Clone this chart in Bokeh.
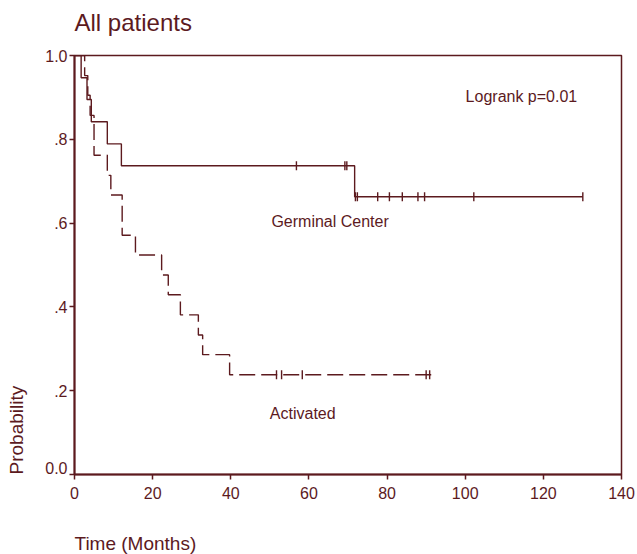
import numpy as np
from bokeh.plotting import figure
from bokeh.models import Range1d, FixedTicker, Label, Title, LinearAxis
from bokeh.embed import file_html
from bokeh.resources import INLINE

# ---- data ----
gc_times = [1.7, 3.2, 4.3, 8.4, 12.0, 71.7]
gc_probs = [0.947, 0.895, 0.842, 0.789, 0.737, 0.663]
gc_end = 130.1
gc_censor_t = [56.8, 69.2, 69.7, 71.9, 72.4, 77.6, 80.6, 83.9, 87.9, 89.6, 102.2, 130.1]

act_times = [2.6, 3.4, 4.0, 5.0, 8.4, 9.3, 12.2, 15.6, 22.3, 24.0, 27.1, 31.7, 32.8, 39.7]
act_probs = [0.952, 0.905, 0.857, 0.762, 0.714, 0.667, 0.571, 0.524, 0.476, 0.429,
             0.381, 0.333, 0.286, 0.238]
act_end = 92.0
act_censor_t = [51.7, 53.0, 58.3, 90.0, 90.9]

y_ticks = [0.0, 0.2, 0.4, 0.6, 0.8, 1.0]
y_tick_labels = ["0.0", ".2", ".4", ".6", ".8", "1.0"]
x_ticks = [0, 20, 40, 60, 80, 100, 120, 140]

C = "#5c1a1e"
FONT = "Liberation Sans"
ZERO_LABEL_LIFT = 0.0167  # the "0.0" label sits a little above its tick


def km_curve(times, probs, end):
    xs = [0.0] + list(times) + [end]
    ys = [1.0] + list(probs) + [probs[-1]]
    return xs, ys


def level_at(times, probs, t):
    p = 1.0
    for ti, pi in zip(times, probs):
        if t >= ti:
            p = pi
    return p


p = figure(width=637, height=554, output_backend="svg", toolbar_location=None,
           x_range=Range1d(0, 140), y_range=Range1d(0, 1),
           min_border_left=74, min_border_right=16, min_border_top=55, min_border_bottom=79)

p.grid.visible = False
p.outline_line_color = C
p.outline_line_width = 1.5
p.background_fill_color = "white"
p.border_fill_color = "white"

xa = p.xaxis[0]
ya = p.yaxis[0]
for ax in (xa, ya):
    ax.axis_line_color = C
    ax.axis_line_width = 2
    ax.major_tick_line_color = C
    ax.major_tick_line_width = 1.5
    ax.major_tick_out = 5
    ax.major_tick_in = 0
    ax.minor_tick_line_color = None
    ax.major_label_text_color = C
    ax.major_label_text_font = FONT
    ax.major_label_text_font_size = "16px"

xa.ticker = FixedTicker(ticks=x_ticks)
xa.major_label_standoff = 7
ya.ticker = FixedTicker(ticks=y_ticks)
ya.major_label_overrides = {t: "" for t in y_ticks}
ya.major_label_standoff = 0

# a label-only axis so the "0.0" label can sit slightly above its tick
label_pos = [t + (ZERO_LABEL_LIFT if t == 0 else 0.0) for t in y_ticks]
lab_axis = LinearAxis(ticker=FixedTicker(ticks=label_pos),
                      major_label_overrides={t: s for t, s in zip(label_pos, y_tick_labels)},
                      axis_line_color=None, major_tick_line_color=None,
                      major_tick_out=0, major_tick_in=0, minor_tick_line_color=None,
                      major_label_standoff=2, major_label_text_color=C,
                      major_label_text_font=FONT, major_label_text_font_size="16px")
p.add_layout(lab_axis, "left")

# curves
gx, gy = km_curve(gc_times, gc_probs, gc_end)
p.step(gx, gy, mode="after", line_color=C, line_width=1.4)
ax_, ay_ = km_curve(act_times, act_probs, act_end)
p.step(ax_, ay_, mode="after", line_color=C, line_width=1.4, line_dash="16 6")

# censor marks
p.scatter(gc_censor_t, [level_at(gc_times, gc_probs, t) for t in gc_censor_t],
          marker="dash", angle=np.pi / 2, size=9, line_color=C, line_width=1.4)
p.scatter(act_censor_t, [level_at(act_times, act_probs, t) for t in act_censor_t],
          marker="dash", angle=np.pi / 2, size=9, line_color=C, line_width=1.4)

# annotations
for txt, x, y in [("Logrank p=0.01", 100.1, 0.902), ("Germinal Center", 50.4, 0.603),
                  ("Activated", 50.0, 0.146)]:
    p.add_layout(Label(x=x, y=y, text=txt, text_font=FONT, text_font_size="16px",
                       text_color=C, text_baseline="middle", text_align="left"))

p.title.text = "All patients\n"
p.title.text_font = FONT
p.title.text_font_size = "24px"
p.title.text_font_style = "normal"
p.title.text_color = C
p.title.align = "left"
p.title.standoff = 0
p.title.text_line_height = 0.72

p.add_layout(Title(text="\nTime (Months)", align="left", text_font=FONT, text_font_size="19px",
                   text_font_style="normal", text_color=C, standoff=0,
                   text_line_height=1.45), "below")
p.add_layout(Title(text="Probability\n", align="left", text_font=FONT, text_font_size="19px",
                   text_font_style="normal", text_color=C, standoff=0,
                   text_line_height=0.72), "left")

open("out.html", "w").write(file_html(p, INLINE))
